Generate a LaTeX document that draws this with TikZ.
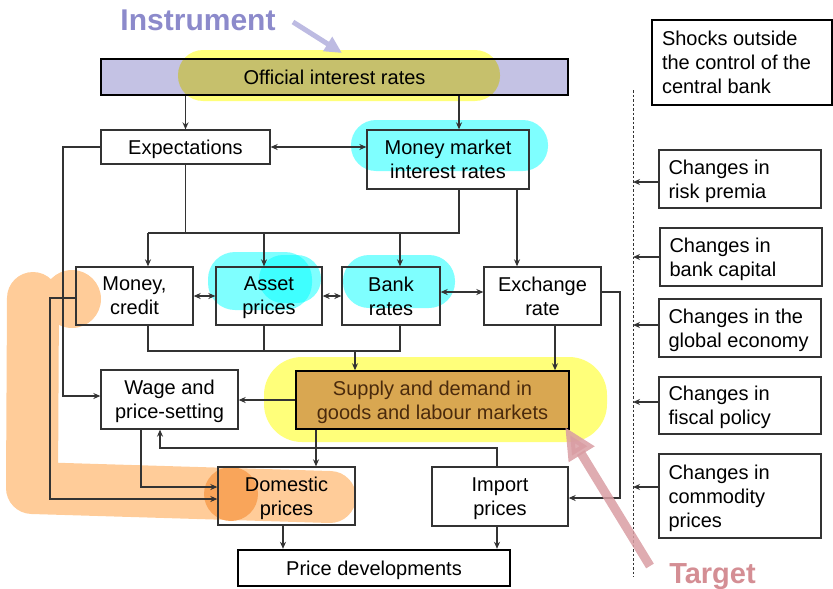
\documentclass[tikz,border=0pt]{standalone}
\usepackage{fontspec}
\setmainfont{Liberation Sans}
\usetikzlibrary{arrows.meta,calc}
\definecolor{lav}{HTML}{C4C2E4}
\definecolor{lavtxt}{HTML}{8C8ACB}
\definecolor{lavarr}{HTML}{BDBBE2}
\definecolor{hlyel}{HTML}{FFFF7A}
\definecolor{olivehl}{HTML}{C6C06C}
\definecolor{hlor}{HTML}{FFCC99}
\definecolor{hlordark}{HTML}{F9A55A}
\definecolor{sdfill}{HTML}{D9A751}
\definecolor{sdtxt}{HTML}{4A2A0C}
\definecolor{tgt}{HTML}{D48E94}
\definecolor{tgtarr}{HTML}{D99DA3}
\definecolor{ln}{HTML}{333333}
\definecolor{cy}{RGB}{0,255,255}
\begin{document}
\begin{tikzpicture}[x=1pt,y=-1pt,
  every node/.style={font=\fontsize{20}{24}\selectfont, inner sep=0pt},
  box/.style={draw=ln, line width=1.3pt, align=center, text depth=0pt},
  thickbox/.style={draw=black, line width=2.4pt, align=center, text depth=0pt},
  txt/.style={align=left, anchor=west, text depth=0pt},
  con/.style={draw=ln, line width=1.2pt},
  arr/.style={con, -{Stealth[length=7pt,width=6pt]}},
  darr/.style={con, {Stealth[length=7pt,width=6pt]}-{Stealth[length=7pt,width=6pt]}},
  hlcy/.style={fill=cy, opacity=0.5}]
\useasboundingbox (0,0) rectangle (833,589);

% ---------- highlights (behind) ----------
\fill[hlyel, rounded corners=25pt] (178,50) rectangle (500,101);
\fill[hlcy, rounded corners=25pt] (351,120) rectangle (548,171);
\fill[hlcy, rounded corners=27pt] (208,252) rectangle (312,310);
\fill[hlcy, rounded corners=24pt] (259,255) rectangle (321,303);
\fill[hlcy, rounded corners=26pt] (343,255) rectangle (455,308);
\fill[hlyel, rounded corners=38pt] (264,357) rectangle (607,442);
\draw[hlor, line width=52pt, line cap=round, line join=round] (33,298) -- (32,488) -- (330,497);
\fill[hlor] (72,299) circle (29);
\fill[hlordark] (231,494) circle (27);

% ---------- official interest rates ----------
\fill[lav] (101,59) rectangle (568,95);
\begin{scope}
  \clip (101,59) rectangle (568,95);
  \fill[olivehl, rounded corners=25pt] (178,50) rectangle (500,101);
\end{scope}
\node[thickbox, minimum width=467pt, minimum height=36pt] (off) at (334.5,77) {Official interest rates};

% ---------- labels ----------
\node[font=\fontsize{30}{30}\selectfont\bfseries, text=lavtxt, anchor=base] (instr) at (198,30) {Instrument};
\node[font=\fontsize{29}{29}\selectfont\bfseries, text=tgt, anchor=base] (tgtl) at (712.5,583) {Target};

% ---------- main nodes ----------
\node[box, minimum width=169pt, minimum height=34pt] (exp) at (185.5,147) {Expectations};
\node[box, minimum width=162pt, minimum height=59pt] (mm) at (448,159.5) {Money market\\interest rates};
\node[box, minimum width=117pt, minimum height=58pt] (money) at (134.5,296) {Money,\\credit};
\node[box, minimum width=106pt, minimum height=58pt] (asset) at (269,296) {Asset\\prices};
\node[box, minimum width=98pt, minimum height=58pt] (bankr) at (391,296) {Bank\\rates};
\node[box, minimum width=117pt, minimum height=58pt] (exch) at (542.5,296) {Exchange\\rate};
\node[box, draw=black, line width=1.5pt, fill=sdfill, text=sdtxt, minimum width=273pt, minimum height=58pt] (supply) at (432.5,400) {Supply and demand in\\goods and labour markets};
\node[box, minimum width=137pt, minimum height=59pt] (wage) at (169.5,399.5) {Wage and\\price-setting};
\node[box, minimum width=137pt, minimum height=58pt] (dom) at (286.5,496) {Domestic\\prices};
\node[box, minimum width=136pt, minimum height=59pt] (imp) at (500,496.5) {Import\\prices};
\node[thickbox, minimum width=272pt, minimum height=36pt] (price) at (374,568) {Price developments};

% ---------- right column ----------
\node[thickbox, minimum width=180pt, minimum height=85pt] (shock) at (742,62.5) {};
\node[txt] (shockt) at ([xshift=11pt]shock.west) {Shocks outside\\the control of the\\central bank};
\node[box, minimum width=162pt, minimum height=58pt] (risk) at (740,179) {};
\node[txt] (riskt) at ([xshift=10pt]risk.west) {Changes in\\risk premia};
\node[box, minimum width=162pt, minimum height=58pt] (bcap) at (741,257) {};
\node[txt] (bcapt) at ([xshift=10pt]bcap.west) {Changes in\\bank capital};
\node[box, minimum width=162pt, minimum height=58pt] (glob) at (740,328) {};
\node[txt] (globt) at ([xshift=10pt]glob.west) {Changes in the\\global economy};
\node[box, minimum width=162pt, minimum height=57pt] (fisc) at (740,405.5) {};
\node[txt] (fisct) at ([xshift=10pt]fisc.west) {Changes in\\fiscal policy};
\node[box, minimum width=162pt, minimum height=84pt] (comm) at (740,496) {};
\node[txt] (commt) at ([xshift=10pt]comm.west) {Changes in\\commodity\\prices};

\coordinate (dtop) at (633,90);
\coordinate (dbot) at (633,577);
\draw[ln, line width=1pt, dash pattern=on 2.5pt off 2pt] (dtop) -- (dbot);
\coordinate (ra) at ([yshift=-3pt]risk.west);
\draw[arr] (ra) -- (ra -| dtop);
\draw[arr] (bcap.west) -- (bcap.west -| dtop);
\coordinate (ga) at ([yshift=3pt]glob.west);
\draw[arr] (ga) -- (ga -| dtop);
\coordinate (fa) at ([yshift=3.5pt]fisc.west);
\draw[arr] (fa) -- (fa -| dtop);
\coordinate (ca) at ([yshift=9pt]comm.west);
\draw[arr] (ca) -- (ca -| dtop);

% ---------- connectors ----------
\draw[arr] (exp.north |- off.south) -- (exp.north);
\coordinate (mmn) at ([xshift=11pt]mm.north);
\draw[arr] (mmn |- off.south) -- (mmn);
\draw[darr] (exp.east) -- (exp.east -| mm.west);

\coordinate (t1) at (148,233);
\coordinate (t2) at (264,233);
\coordinate (t3) at (400,233);
\coordinate (mms) at ([xshift=11pt]mm.south);
\draw[con] (exp.south) -- (exp.south |- t1);
\draw[con] (mms) -- (mms |- t1) -- (t1);
\draw[arr] (t1) -- (t1 |- money.north);
\draw[arr] (t2) -- (t2 |- asset.north);
\draw[arr] (t3) -- (t3 |- bankr.north);
\coordinate (mme) at ([xshift=69pt]mm.south);
\draw[arr] (mme) -- (mme |- exch.north);

\draw[darr] (money.east) -- (asset.west);
\draw[darr] (asset.east) -- (bankr.west);
\coordinate (be) at ([yshift=4pt]bankr.east);
\draw[darr] (be) -- (be -| exch.west);

\coordinate (u1) at (148,351);
\coordinate (u2) at (264,351);
\coordinate (u3) at (400,351);
\coordinate (u0) at (355,351);
\draw[con] (u1 |- money.south) -- (u1) -- (u3) -- (u3 |- bankr.south);
\draw[con] (u2 |- asset.south) -- (u2);
\draw[arr] (u0) -- (u0 |- supply.north);
\coordinate (es) at ([xshift=12.5pt]exch.south);
\draw[arr] (es) -- (es |- supply.north);

\draw[arr] (supply.west) -- (supply.west -| wage.east);

\coordinate (l1) at (63,148);
\coordinate (wl) at ([yshift=3.5pt]wage.west);
\draw[arr] (exp.west) -| (l1 |- wl) -- (wl);

\coordinate (l2) at (50,298);
\coordinate (mw) at ([yshift=-2pt]money.west);
\coordinate (dl) at ([yshift=-3pt]dom.west);
\draw[arr] (mw) -- (l2) -- (l2 |- dl) -- (dl);

\coordinate (ws) at ([xshift=-28.5pt]wage.south);
\coordinate (dl2) at ([yshift=9pt]dom.west);
\draw[arr] (ws) |- (dl2);

\coordinate (ss) at ([xshift=-116.5pt]supply.south);
\draw[arr] (ss) -- (ss |- dom.north);

\coordinate (f1) at (160,448);
\coordinate (in) at ([xshift=-3pt]imp.north);
\draw[arr] (in) |- (f1) -- (f1 |- wage.south);

\coordinate (r1) at (620,292);
\coordinate (ee) at ([yshift=4pt]exch.east);
\coordinate (ie) at ([yshift=-1.5pt]imp.east);
\draw[arr] (ee) -- (r1) |- (ie);

\coordinate (ds) at ([xshift=-3.5pt]dom.south);
\draw[arr] (ds) -- (ds |- price.north);
\coordinate (is) at ([xshift=-3pt]imp.south);
\draw[arr] (is) -- (is |- price.north);

% ---------- annotation arrows ----------
\coordinate (ia) at (293,22);
\coordinate (ib) at (342,53);
\draw[lavarr, line width=5pt, -{Triangle[length=17pt,width=16pt]}] (ia) -- (ib);
\coordinate (ta) at (650,566);
\coordinate (tb) at (565,427);
\draw[tgtarr, opacity=0.85, line width=9pt, -{Triangle[length=32pt,width=28pt]}] (ta) -- (tb);
\end{tikzpicture}
\end{document}
